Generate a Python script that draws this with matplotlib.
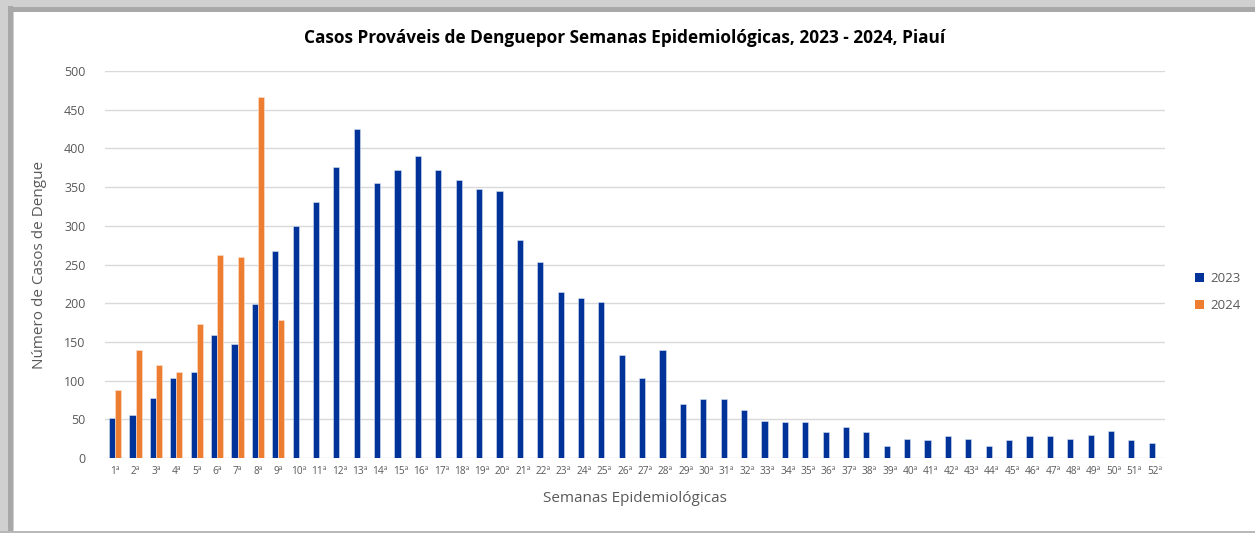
import matplotlib
matplotlib.use("Agg")
import matplotlib.pyplot as plt
from matplotlib.patches import Rectangle, Patch
import numpy as np

weeks = [f"{i}ª" for i in range(1, 53)]
cases_2023 = [52, 55, 77, 104, 111, 159, 147, 199, 268, 300,
              331, 376, 425, 355, 372, 390, 372, 359, 347, 345,
              282, 253, 214, 207, 202, 133, 104, 139, 70, 76,
              76, 62, 48, 47, 47, 33, 40, 33, 15, 25,
              23, 28, 25, 15, 23, 28, 28, 25, 30, 35,
              23, 20]
cases_2024 = [88, 139, 120, 111, 173, 262, 260, 466, 178]

title = "Casos Prováveis de Denguepor Semanas Epidemiológicas, 2023 - 2024, Piauí"
xlabel = "Semanas Epidemiológicas"
ylabel = "Número de Casos de Dengue"
series_names = ["2023", "2024"]
colors = ["#003399", "#ED7D31"]
text_col = "#595959"

plt.rcParams['font.family'] = ['Open Sans', 'DejaVu Sans']

fig = plt.figure(figsize=(12.55, 5.33), dpi=100)
fig.patch.set_facecolor("white")

# frame / shadow
W, H = 1255, 533
fig.patches.append(Rectangle((0, 0), 14 / W, 1, transform=fig.transFigure,
                             facecolor="#D0D0D0", edgecolor="none", zorder=0))
fig.patches.append(Rectangle((0, 1 - 12 / H), 1, 12 / H, transform=fig.transFigure,
                             facecolor="#D0D0D0", edgecolor="none", zorder=0))
fig.patches.append(Rectangle((8 / W, 0), 5 / W, 1 - 6 / H, transform=fig.transFigure,
                             facecolor="#A8A8A8", edgecolor="none", zorder=0))
fig.patches.append(Rectangle((8 / W, 1 - 12 / H), 1 - 8 / W, 5 / H, transform=fig.transFigure,
                             facecolor="#A8A8A8", edgecolor="none", zorder=0))
fig.patches.append(Rectangle((0, 0), 1, 2 / H, transform=fig.transFigure,
                             facecolor="#B8B8B8", edgecolor="none", zorder=0))

ax = fig.add_axes([105 / W, 1 - 458 / H, (1165 - 105) / W, (458 - 71) / H])
ax.set_facecolor("none")

x = np.arange(len(weeks))
bw = 0.3
ax.bar(x - bw / 2, cases_2023, width=bw, color=colors[0], edgecolor="#DCE3F2",
       linewidth=0.4, zorder=3)
x24 = np.arange(len(cases_2024))
ax.bar(x24 + bw / 2, cases_2024, width=bw, color=colors[1], edgecolor="#FBE3D3",
       linewidth=0.4, zorder=3)

ax.set_xlim(-0.5, len(weeks) - 0.5)
ax.set_ylim(0, 500)
ax.set_yticks(np.arange(0, 501, 50))
ax.set_xticks(x)
ax.set_xticklabels(weeks, fontsize=7.3, color=text_col)
ax.tick_params(axis='y', labelsize=9, colors=text_col, length=0, pad=14)
ax.tick_params(axis='x', length=0, pad=6)
ax.grid(axis='y', color="#D9D9D9", linewidth=1, zorder=0)
for s in ax.spines.values():
    s.set_visible(False)

ax.set_xlabel(xlabel, fontsize=11, color=text_col, labelpad=10)
ax.set_ylabel(ylabel, fontsize=11, color=text_col, labelpad=12)

fig.text(625 / W, 1 - 38 / H, title, ha="center", va="center", fontsize=12.4,
         fontweight="bold", color="#000000",
         family=['Liberation Sans Narrow', 'Open Sans', 'DejaVu Sans'])

handles = [Patch(facecolor=c, edgecolor="none") for c in colors]
fig.legend(handles, series_names, loc="center left",
           bbox_to_anchor=(1183 / W, 1 - 292 / H), frameon=False,
           fontsize=9.5, labelcolor=text_col, handlelength=0.7, handleheight=0.7,
           handletextpad=0.5, labelspacing=1.1)

fig.savefig("out.png", dpi=100, facecolor="white")
